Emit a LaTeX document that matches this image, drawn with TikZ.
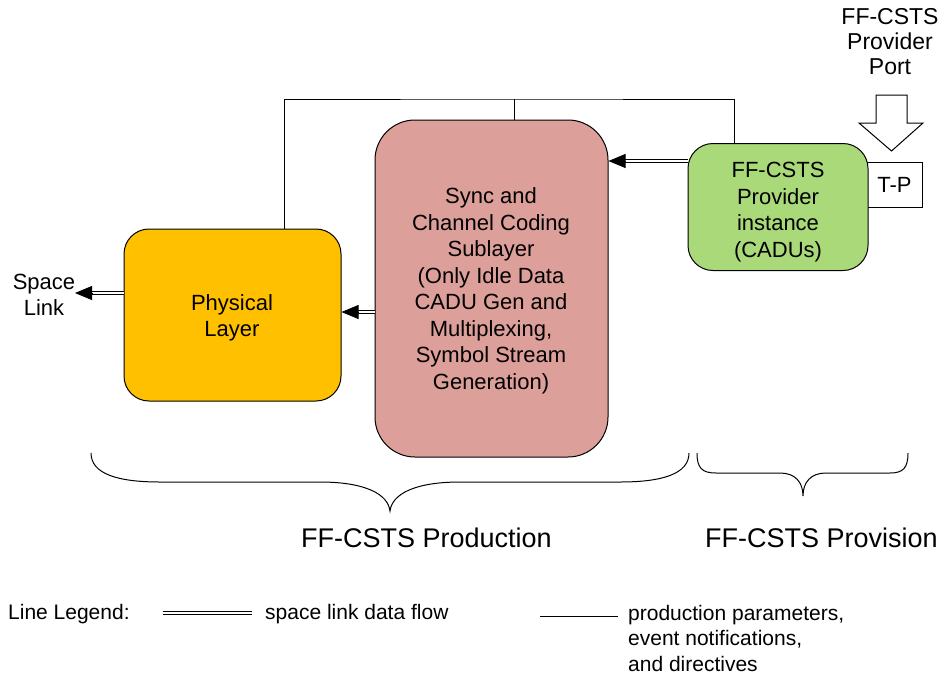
\documentclass[tikz,border=0pt]{standalone}
\usepackage{fontspec}
\setmainfont{Liberation Sans}
\usetikzlibrary{arrows.meta,calc}
\definecolor{physfill}{RGB}{255,192,0}
\definecolor{syncfill}{RGB}{221,159,153}
\definecolor{provfill}{RGB}{170,217,122}
\begin{document}
\begin{tikzpicture}[x=1pt,y=-1pt,
  box/.style={draw=black, line width=1pt, rectangle, inner sep=0pt},
  lbl/.style={align=center, inner sep=0pt, font=\fontsize{22}{26.5}\selectfont},
  toplbl/.style={align=center, inner sep=0pt, font=\fontsize{23}{25}\selectfont},
  grouplbl/.style={inner sep=0pt, font=\fontsize{27}{30}\selectfont},
  legend/.style={inner sep=0pt, align=left, font=\fontsize{21}{25.5}\selectfont},
  dblline/.style={double, double distance=2pt, line width=1.1pt},
  dbl/.style={dblline, shorten >=15pt},
  tipline/.style={-{Triangle[length=17pt,width=14pt]}, line width=0.8pt},
  ctl/.style={line width=0.9pt},
  bracepath/.style={line width=1pt},
]
\useasboundingbox (0,0) rectangle (942,678);

% transfer-port box sits behind the provider instance
\node[box, fill=white, minimum width=56pt, minimum height=45pt] (tp) at (894.5,184.5) {};
\node[lbl, anchor=center] (tplbl) at (tp.center) {T-P};

% processing blocks
\node[box, fill=physfill, rounded corners=25pt, minimum width=217pt, minimum height=172pt] (phys) at (232.5,315) {};
\node[box, fill=syncfill, rounded corners=40pt, minimum width=233pt, minimum height=337pt] (sync) at (491.5,288.5) {};
\node[box, fill=provfill, rounded corners=25pt, minimum width=180pt, minimum height=127pt] (prov) at (778,207) {};

\node[lbl] (physlbl) at (232,318) {Physical\\Layer};
\node[lbl] (synclbl) at (491,291) {Sync and\\Channel Coding\\Sublayer\\(Only Idle Data\\CADU Gen and\\Multiplexing,\\Symbol Stream\\Generation)};
\node[lbl] (provlbl) at (778,212) {FF-CSTS\\Provider\\instance\\(CADUs)};

% provider port
\node[toplbl] (portlbl) at (890,42) {FF-CSTS\\Provider\\Port};
\draw[line width=1pt, fill=white] (876,95) -- (907,95) -- (907,123) -- (923,123)
  -- (891.5,151) -- (859,123) -- (876,123) -- cycle;

% space link end
\node[lbl] (sllbl) at (44,295) {Space\\Link};
\coordinate (slink) at (75,293);

% production parameter / directive lines
\coordinate (bus) at (514,99);
\draw[ctl] ($(phys.north)+(51.5,0)$) |- (bus) -| ($(prov.north)+(-44,0)$);
\draw[ctl] (bus) -- (sync.north -| bus);

% space link data flow
\coordinate (pin) at (sync.east |- 0,161);
\draw[dbl] (prov.west |- pin) -- (pin);
\draw[tipline] ($(pin)+(17,0)$) -- (pin);

\coordinate (physin) at (phys.east |- 0,312);
\draw[dbl] (sync.west |- physin) -- (physin);
\draw[tipline] ($(physin)+(17,0)$) -- (physin);

\draw[dbl] (phys.west |- slink) -- (slink);
\draw[tipline] ($(slink)+(17,0)$) -- (slink);

% grouping braces
\draw[bracepath] (91,453) .. controls (91,474) and (118,482) .. (160,482)
  -- (320,482) .. controls (365,482) and (388,494) .. (390,511)
  .. controls (392,494) and (415,482) .. (460,482)
  -- (620,482) .. controls (662,482) and (689,474) .. (689,453);
\draw[bracepath] (697,453) .. controls (697,468) and (702,473) .. (716,473)
  -- (780,473) .. controls (795,473) and (803,482) .. (803,496)
  .. controls (803,482) and (811,473) .. (826,473)
  -- (890,473) .. controls (903,473) and (908,468) .. (908,453);

\node[grouplbl] (prodlbl) at (426.5,538) {FF-CSTS Production};
\node[grouplbl] (provislbl) at (821.5,538) {FF-CSTS Provision};

% line legend
\node[legend, anchor=base west] (legtitle) at (8,619) {Line Legend:};
\draw[dblline] (163,613) -- (252,613);
\node[legend, anchor=base west] (legflow) at (265,619) {space link data flow};
\draw[ctl] (540,616) -- (618,616);
\node[legend, anchor=north west] (legparam) at (628,605) {production parameters,\\event notifications,\\and directives};
\end{tikzpicture}
\end{document}
